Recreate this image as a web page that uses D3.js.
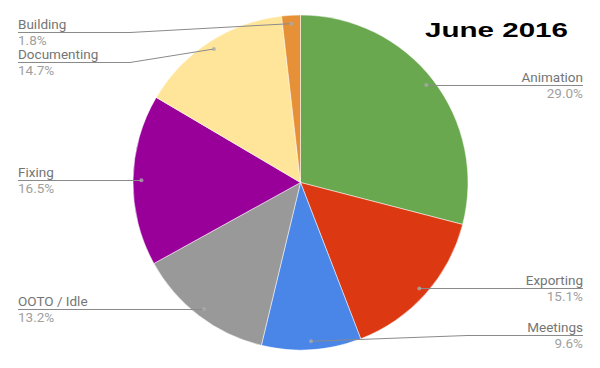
<!DOCTYPE html>
<html>
<head>
<meta charset="utf-8">
<script src="https://cdn.jsdelivr.net/npm/d3@7/dist/d3.min.js"></script>
<style>
  html, body { margin: 0; padding: 0; background: #fff; }
  svg { display: block; }
</style>
</head>
<body>
<div id="chart"></div>
<script>
const title = "June 2016";
const categories = ["Animation", "Exporting", "Meetings", "OOTO / Idle", "Fixing", "Documenting", "Building"];
const values = [29.0, 15.1, 9.6, 13.2, 16.5, 14.7, 1.8];
const valueLabels = ["29.0%", "15.1%", "9.6%", "13.2%", "16.5%", "14.7%", "1.8%"];
const colors = ["#6aa84f", "#dc3912", "#4a86e8", "#999999", "#990099", "#ffe599", "#e69138"];

const W = 600, H = 368;
const cx = 300.5, cy = 182.5, R = 167.5;

const svg = d3.select("#chart").append("svg").attr("width", W).attr("height", H);

const data = categories.map((c, i) => ({ name: c, value: values[i], label: valueLabels[i], color: colors[i] }));
const pie = d3.pie().value(d => d.value).sort(null);
const arcs = pie(data);
const arc = d3.arc().innerRadius(0).outerRadius(R);
const dotArc = d3.arc().innerRadius(R * 0.95).outerRadius(R * 0.95);

const g = svg.append("g").attr("transform", `translate(${cx},${cy})`);
g.selectAll("path.slice").data(arcs).join("path")
  .attr("class", "slice")
  .attr("d", arc)
  .attr("fill", d => d.data.color)
  .attr("stroke", "#fff")
  .attr("stroke-width", 0.5);

// label layout
const yMin = 32, yMax = 335, gap = 30;
const labels = arcs.map(a => {
  const [x, y] = dotArc.centroid(a);
  const mid = (a.startAngle + a.endAngle) / 2;
  return { a, dx: cx + x, dy: cy + y, right: mid < Math.PI, ly: Math.max(yMin, Math.min(yMax, cy + y)) };
});
function resolve(list) {
  list.sort((p, q) => p.ly - q.ly);
  for (let i = 1; i < list.length; i++) if (list[i].ly < list[i - 1].ly + gap) list[i].ly = list[i - 1].ly + gap;
  for (let i = list.length - 1; i >= 0; i--) {
    if (list[i].ly > yMax) list[i].ly = yMax;
    if (i < list.length - 1 && list[i].ly > list[i + 1].ly - gap) list[i].ly = list[i + 1].ly - gap;
  }
}
resolve(labels.filter(l => l.right));
resolve(labels.filter(l => !l.right));

const leftX = 18, rightX = 583, leftElbow = 130, rightElbow = 467;
const lg = svg.append("g");
labels.forEach(l => {
  const ly = Math.round(l.ly) + 0.5;
  let pts;
  if (l.right) {
    pts = Math.abs(l.dy - l.ly) < 3 ? [[l.dx, ly], [rightX, ly]] : [[l.dx, l.dy], [rightElbow, ly], [rightX, ly]];
  } else {
    pts = Math.abs(l.dy - l.ly) < 3 ? [[l.dx, ly], [leftX, ly]] : [[l.dx, l.dy], [leftElbow, ly], [leftX, ly]];
  }
  lg.append("path").attr("d", d3.line()(pts)).attr("fill", "none").attr("stroke", "#8a8a8a").attr("stroke-width", 1);
  lg.append("circle").attr("cx", l.dx).attr("cy", l.dy).attr("r", 2).attr("fill", "#aaaaaa").attr("opacity", 0.8);
  const tx = l.right ? rightX : leftX;
  const anchor = l.right ? "end" : "start";
  lg.append("text").attr("x", tx).attr("y", ly - 4).attr("text-anchor", anchor)
    .attr("font-family", "Roboto, sans-serif").attr("font-size", 13.5).attr("fill", "#757575")
    .text(l.a.data.name);
  lg.append("text").attr("x", tx).attr("y", ly + 12.5).attr("text-anchor", anchor)
    .attr("font-family", "Roboto, sans-serif").attr("font-size", 13.5).attr("fill", "#a0a0a0")
    .text(l.a.data.label);
});

svg.append("text").attr("x", 425).attr("y", 37)
  .attr("font-family", "Liberation Sans, Arial, sans-serif").attr("font-weight", "bold")
  .attr("font-size", 21).attr("fill", "#000")
  .attr("textLength", 143).attr("lengthAdjust", "spacingAndGlyphs")
  .text(title);
</script>
</body>
</html>
